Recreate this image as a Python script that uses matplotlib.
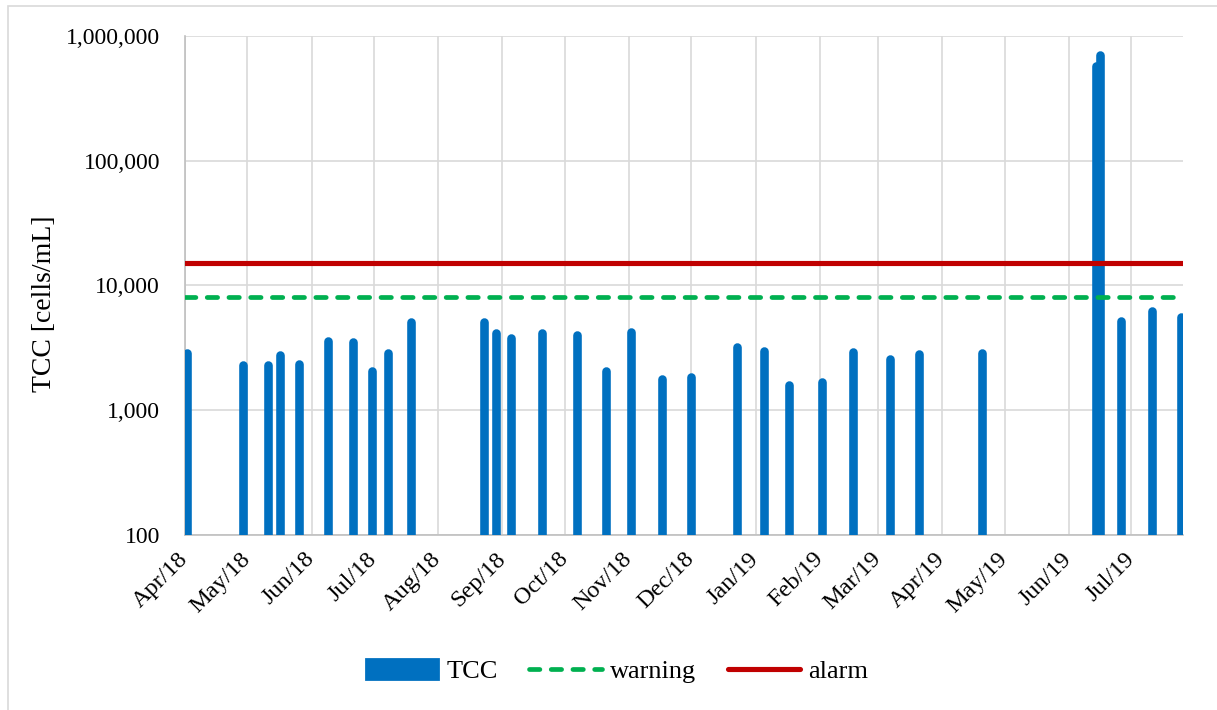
import numpy as np
import matplotlib
matplotlib.use("Agg")
import matplotlib.pyplot as plt
import matplotlib.dates as mdates
from matplotlib.patches import Patch, Rectangle
from matplotlib.lines import Line2D
from matplotlib.ticker import FuncFormatter, FixedLocator, NullLocator

# Sampling dates and total cell counts (cells/mL)
sample_dates = [
    "2018-04-02", "2018-04-29", "2018-05-11", "2018-05-17", "2018-05-26",
    "2018-06-09", "2018-06-21", "2018-06-30", "2018-07-08", "2018-07-19",
    "2018-08-23", "2018-08-29", "2018-09-05", "2018-09-20", "2018-10-07",
    "2018-10-21", "2018-11-02", "2018-11-17", "2018-12-01", "2018-12-23",
    "2019-01-05", "2019-01-17", "2019-02-02", "2019-02-17", "2019-03-07",
    "2019-03-21", "2019-04-20", "2019-06-14", "2019-06-16", "2019-06-26",
    "2019-07-11", "2019-07-25",
]
tcc_values = [
    2880, 2280, 2280, 2760, 2360,
    3570, 3500, 2070, 2890, 5090,
    5070, 4180, 3790, 4140, 3990,
    2070, 4240, 1790, 1860, 3190,
    2980, 1590, 1690, 2930, 2560,
    2840, 2890, 568000, 705000, 5160,
    6200, 5550,
]
warning_level = 8000
alarm_level = 15000
y_ticks = [100, 1000, 10000, 100000, 1000000]

x_start = np.datetime64("2018-04-01")
x_end = np.datetime64("2019-07-26")

W, H, DPI = 1217, 710, 100
plt.rcParams["font.family"] = ["Liberation Serif", "DejaVu Serif"]

fig = plt.figure(figsize=(W / DPI, H / DPI), dpi=DPI)
fig.patch.set_facecolor("white")

# outer chart frame
fig.patches.append(Rectangle((8 / W, -0.1), 1.2, (H - 6) / H + 0.1,
                             transform=fig.transFigure, fill=False,
                             edgecolor="#d9d9d9", linewidth=1.2))

ax = fig.add_axes([185 / W, 1 - 535 / H, (1183 - 185) / W, (535 - 35.7) / H])

dates = np.array(sample_dates, dtype="datetime64[D]")
blue = "#0070c0"
bars = ax.vlines(dates, 100, tcc_values, colors=blue, linewidth=6.2, zorder=3)
bars.set_capstyle("round")

warn_style = dict(color="#00b050", linewidth=3.4, linestyle=(0, (2.2, 2.4)),
                  dash_capstyle="round")
alarm_style = dict(color="#c00000", linewidth=3.7, solid_capstyle="round")

ax.axhline(alarm_level, zorder=4, **alarm_style)
ax.axhline(warning_level, zorder=4, **warn_style)

ax.set_yscale("log")
ax.set_ylim(100, 1000000)
ax.yaxis.set_major_locator(FixedLocator(y_ticks))
ax.yaxis.set_minor_locator(NullLocator())
ax.yaxis.set_major_formatter(FuncFormatter(lambda v, p: f"{int(round(v)):,}"))

ax.set_xlim(x_start, x_end)
ax.xaxis.set_major_locator(mdates.MonthLocator())
ax.xaxis.set_major_formatter(mdates.DateFormatter("%b/%y"))

ax.grid(True, which="major", color="#d9d9d9", linewidth=1.2, zorder=0)
ax.set_axisbelow(True)
for side in ("top", "right"):
    ax.spines[side].set_visible(False)
for side in ("left", "bottom"):
    ax.spines[side].set_color("#bfbfbf")
    ax.spines[side].set_linewidth(1.2)
    ax.spines[side].set_zorder(2)

ax.tick_params(axis="y", length=0, pad=18, labelsize=17, labelcolor="black")
ax.tick_params(axis="x", length=0, pad=15, labelsize=17.5, labelcolor="black")
for lab in ax.get_xticklabels():
    lab.set_rotation(45)
    lab.set_ha("right")
    lab.set_va("center")
    lab.set_rotation_mode("anchor")

ax.set_ylabel("TCC [cells/mL]", fontsize=20)
ax.yaxis.set_label_coords(-0.128, 0.463)

handles = [
    Patch(facecolor=blue, edgecolor=blue, linewidth=2, joinstyle="round", label="TCC"),
    Line2D([], [], **warn_style, label="warning"),
    Line2D([], [], **alarm_style, label="alarm"),
]
fig.legend(handles=handles, loc="center", bbox_to_anchor=(617 / W, 1 - 671 / H),
           ncol=3, frameon=False, fontsize=19, handlelength=2.75, handleheight=0.8,
           handletextpad=0.3, columnspacing=1.2)

fig.savefig("out.png", dpi=DPI)
